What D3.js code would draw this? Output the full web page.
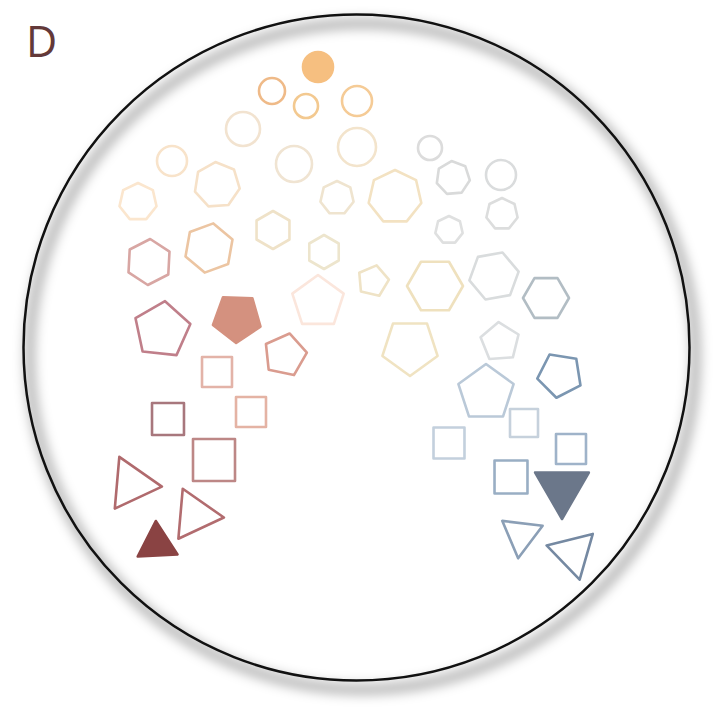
<!DOCTYPE html>
<html>
<head>
<meta charset="utf-8">
<script src="https://cdn.jsdelivr.net/npm/d3@7"></script>
<style>
  html, body { margin: 0; padding: 0; background: #ffffff; }
  svg { display: block; }
</style>
</head>
<body>
<script>
// ---- data ----
const panelLabel = "D";
// number of sides per mark (0 = circle)
const sides = [3,3,3,4,4,4,4,5,5,5,5,6,6,6,6,7,7,7,7,0,0,0,0,0,0,0,0,
               0,0,7,7,7,5,6,6,6,5,5,5,5,4,4,4,4,3,3,3];
// x, y positions in data units (tenths of the panel)
const xs = [15.7,13.2,19.5,16.8,21.4,25.1,21.7,16.2,23.7,28.5,31.8,14.9,20.9,27.3,32.4,13.8,21.7,33.7,39.5,17.2,24.3,29.4,35.7,27.2,30.6,35.7,31.8,
            43.0,50.1,45.3,50.2,44.9,37.3,43.5,49.4,54.6,41.0,50.0,48.6,56.0,44.9,52.4,57.1,51.1,56.2,52.1,57.3];
const ys = [54.4,48.4,51.5,41.9,46.0,41.2,37.2,33.0,31.8,35.5,30.2,26.2,24.8,23.0,25.2,20.2,18.5,19.8,19.7,16.1,12.9,16.4,14.7,9.1,10.6,10.1,6.7,
            14.8,17.5,17.8,21.4,23.0,28.1,28.6,27.6,29.8,34.7,34.2,39.3,37.5,44.3,42.3,44.9,47.7,48.8,53.5,55.3];
// mark size (circumradius, data units)
const sizes = [23,30,29,22.6,29.7,21.2,21.2,29,25,22,27,23,25,19,17,19,23,17,27,15,17,18,19,13,12,15,15,
               12,15,17,16,14,16,28,25,23,29,20,29,23,21.9,19.8,21.2,23.3,31,23.5,27.5];
// orientation of the first vertex (degrees clockwise from up)
const rotations = [-3,95,95,45,45,45,45,6,38,12,0,3,10,0,0,0,-4,0,0,0,0,0,0,0,0,0,0,
                   0,0,-5,0,0,13,30,20,30,36,-4,0,-27,45,45,45,45,180,187,166];
const colors = ["#8a4343","#b06a6d","#b26c6f","#a8777d","#bd8786","#e4b3a4","#e3b3a8","#c07f8a","#d4917f","#da9c8f","#fbe6dc",
                "#d8a6a3","#ecc5a2","#efe2c8","#ede5cd","#fbe6ce","#f6e1c8","#efe4cf","#f3e2c2",
                "#f8e3ca","#f2e3d0","#f0e4d2","#f3e4cc","#efba88","#f3c990","#f5cb96","#f6bf80",
                "#dcdcdc","#dadcdd","#d9dada","#dcdddd","#dfe0e0","#efe3c6","#efe1be","#d9dcdd","#b2bdc4",
                "#f0e3c2","#dbdee0","#bac9d8","#7b96b1","#c3d0dd","#c6d1dc","#9fb3c9","#99aec4","#6b778a","#8b9fb6","#7589a2"];
const filled = [1,0,0,0,0,0,0,0,1,0,0,0,0,0,0,0,0,0,0,0,0,0,0,0,0,0,1,
                0,0,0,0,0,0,0,0,0,0,0,0,0,0,0,0,0,1,0,0];

// ---- layout ----
const W = 720, H = 720;
const x = d3.scaleLinear().domain([0, 72]).range([0, W]);
const y = d3.scaleLinear().domain([0, 72]).range([0, H]);
const r = d3.scaleLinear().domain([0, 30]).range([0, 30]);

const svg = d3.select("body").append("svg").attr("width", W).attr("height", H);

const defs = svg.append("defs");
defs.append("filter").attr("id", "blur")
  .attr("x", "-20%").attr("y", "-20%").attr("width", "140%").attr("height", "140%")
  .append("feGaussianBlur").attr("stdDeviation", 6);

svg.append("rect").attr("width", W).attr("height", H).attr("fill", "#ffffff");

// shadow of the outer ring
svg.append("circle")
  .attr("cx", 356.5 + 6).attr("cy", 347.5 + 9).attr("r", 333)
  .attr("fill", "none").attr("stroke", "#000").attr("stroke-width", 10)
  .attr("stroke-opacity", 0.3)
  .attr("filter", "url(#blur)");

// outer ring
svg.append("circle")
  .attr("cx", 356.5).attr("cy", 347.5).attr("r", 333)
  .attr("fill", "none").attr("stroke", "#111").attr("stroke-width", 2.5);

svg.append("text")
  .attr("x", 26).attr("y", 57)
  .attr("font-family", "'Open Sans', Lato, sans-serif")
  .attr("font-size", 43)
  .attr("fill", "#633939")
  .text(panelLabel);

const data = sides.map((s, i) => ({
  s, cx: x(xs[i]), cy: y(ys[i]), rad: r(sizes[i]), rot: rotations[i],
  color: colors[i], filled: filled[i] === 1
}));

const line = d3.line().curve(d3.curveLinearClosed);
function polyPoints(d) {
  const pts = [];
  for (let k = 0; k < d.s; k++) {
    const a = (d.rot + k * 360 / d.s) * Math.PI / 180;
    pts.push([d.cx + d.rad * Math.sin(a), d.cy - d.rad * Math.cos(a)]);
  }
  return pts;
}

const g = svg.append("g");
g.selectAll("circle.mark").data(data.filter(d => d.s === 0)).join("circle")
  .attr("class", "mark")
  .attr("cx", d => d.cx).attr("cy", d => d.cy).attr("r", d => d.rad)
  .attr("fill", d => d.filled ? d.color : "none")
  .attr("stroke", d => d.color).attr("stroke-width", 2.6);

g.selectAll("path.mark").data(data.filter(d => d.s > 0)).join("path")
  .attr("class", "mark")
  .attr("d", d => line(polyPoints(d)))
  .attr("fill", d => d.filled ? d.color : "none")
  .attr("stroke", d => d.color).attr("stroke-width", 2.6)
  .attr("stroke-linejoin", "round");
</script>
</body>
</html>
